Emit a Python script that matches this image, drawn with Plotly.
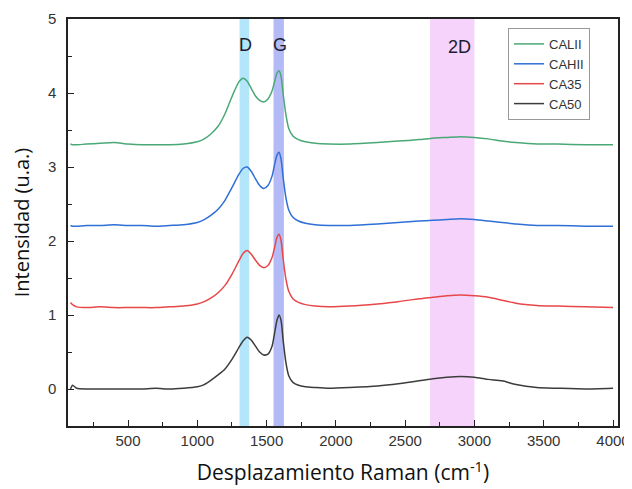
import plotly.graph_objects as go

# Raman shift (cm-1)
shift = [85, 100, 130, 200, 300, 400, 500, 600, 700, 800, 900, 1000, 1050, 1100, 1150,
         1200, 1250, 1300, 1330, 1360, 1390, 1420, 1450, 1480, 1510, 1540, 1560, 1575,
         1590, 1605, 1620, 1640, 1660, 1690, 1730, 1780, 1850, 1950, 2100, 2300, 2450,
         2600, 2700, 2800, 2900, 3000, 3100, 3200, 3300, 3450, 3600, 3800, 4000]

cali = [3.31, 3.30, 3.30, 3.31, 3.32, 3.33, 3.31, 3.30, 3.30, 3.30, 3.31, 3.34, 3.38, 3.45, 3.55,
        3.72, 3.95, 4.15, 4.20, 4.16, 4.06, 3.96, 3.90, 3.88, 3.92, 4.03, 4.17, 4.27,
        4.30, 4.22, 3.98, 3.70, 3.52, 3.42, 3.37, 3.34, 3.32, 3.31, 3.31, 3.33, 3.35,
        3.37, 3.39, 3.40, 3.41, 3.40, 3.38, 3.35, 3.33, 3.31, 3.31, 3.30, 3.30]

cahi = [2.21, 2.20, 2.20, 2.21, 2.21, 2.22, 2.21, 2.21, 2.20, 2.21, 2.22, 2.25, 2.29, 2.35, 2.43,
        2.55, 2.72, 2.90, 2.98, 3.00, 2.94, 2.84, 2.75, 2.71, 2.75, 2.88, 3.05, 3.16,
        3.20, 3.10, 2.85, 2.58, 2.42, 2.32, 2.27, 2.24, 2.22, 2.21, 2.21, 2.23, 2.25,
        2.27, 2.28, 2.29, 2.30, 2.29, 2.27, 2.25, 2.23, 2.21, 2.21, 2.20, 2.20]

ca35 = [1.17, 1.14, 1.11, 1.10, 1.11, 1.10, 1.10, 1.10, 1.10, 1.11, 1.12, 1.15, 1.18, 1.23, 1.30,
        1.40, 1.55, 1.73, 1.83, 1.87, 1.82, 1.74, 1.67, 1.64, 1.67, 1.78, 1.93, 2.05,
        2.09, 2.00, 1.75, 1.48, 1.32, 1.22, 1.17, 1.14, 1.12, 1.11, 1.12, 1.15, 1.18,
        1.22, 1.24, 1.26, 1.27, 1.26, 1.24, 1.20, 1.16, 1.13, 1.12, 1.11, 1.10]

ca50 = [0.00, 0.05, 0.01, 0.00, 0.00, 0.00, 0.00, 0.00, 0.01, 0.00, 0.01, 0.03, 0.06, 0.12, 0.19,
        0.27, 0.40, 0.56, 0.65, 0.70, 0.66, 0.58, 0.50, 0.46, 0.47, 0.58, 0.78, 0.93,
        1.00, 0.92, 0.65, 0.35, 0.18, 0.09, 0.05, 0.03, 0.02, 0.01, 0.02, 0.04, 0.07,
        0.11, 0.14, 0.16, 0.17, 0.16, 0.13, 0.11, 0.06, 0.02, 0.01, 0.00, 0.01]

series_names = ["CALII", "CAHII", "CA35", "CA50"]
series_values = [cali, cahi, ca35, ca50]
series_colors = ["#4aa876", "#2f6fd6", "#e8474a", "#3c3c3c"]

band_labels = ["D", "G", "2D"]
band_start = [1305, 1550, 2680]
band_end = [1375, 1625, 3000]
band_colors = ["#b3e6fb", "#b4baf5", "#f5d3fa"]
label_x = [1350, 1595, 2890]
label_y = [4.65, 4.65, 4.62]

fig = go.Figure()

for name, vals, col in zip(series_names, series_values, series_colors):
    fig.add_trace(go.Scatter(x=shift, y=vals, mode="lines", name=name,
                             line=dict(color=col, width=1.5, shape="spline", smoothing=0.6)))

for s, e, c in zip(band_start, band_end, band_colors):
    fig.add_vrect(x0=s, x1=e, fillcolor=c, opacity=1, line_width=0, layer="below")

for t, x, y in zip(band_labels, label_x, label_y):
    fig.add_annotation(x=x, y=y, text=t, showarrow=False,
                       font=dict(family="Liberation Sans, Arial", size=18, color="#1c1c30"))

axis_common = dict(showline=True, linecolor="#222", linewidth=1.5, mirror=True,
                   ticks="inside", ticklen=6, tickwidth=1.2, tickcolor="#222",
                   showgrid=False, zeroline=False, automargin=False,
                   tickfont=dict(family="Liberation Sans, Arial", size=15, color="#333"))

fig.update_layout(
    width=624, height=481,
    margin=dict(l=60, r=14, t=11, b=63),
    paper_bgcolor="white", plot_bgcolor="white",
    showlegend=True,
    legend=dict(x=0.8, y=0.978, xanchor="left", yanchor="top",
                bordercolor="#999", borderwidth=1, bgcolor="white",
                font=dict(family="Liberation Sans, Arial", size=13, color="#333"),
                itemwidth=30, tracegroupgap=0),
    xaxis=dict(range=[67, 4036], dtick=500, tick0=0,
               minor=dict(ticks="inside", ticklen=4, dtick=250, tickcolor="#222"),
               title=dict(text="Desplazamiento Raman (cm<sup>-1</sup>)",
                          font=dict(family="Open Sans", size=21, color="#111"), standoff=18),
               **axis_common),
    yaxis=dict(range=[-0.5, 5], dtick=1, tick0=0, ticklabelstandoff=7,
               minor=dict(ticks="inside", ticklen=4, dtick=0.5, tickcolor="#222"),
               title=dict(text="Intensidad (u.a.)",
                          font=dict(family="Open Sans", size=20, color="#111"), standoff=14),
               **axis_common),
)

fig.write_html("out.html")
